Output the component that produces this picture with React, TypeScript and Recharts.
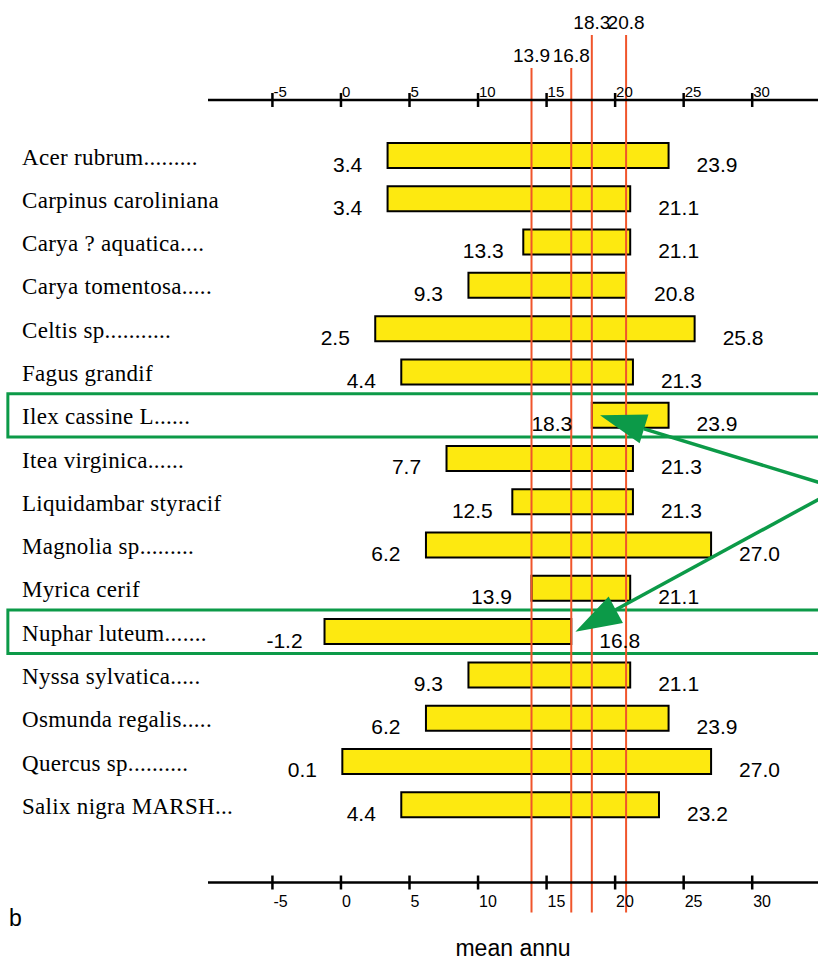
import {
  BarChart,
  Bar,
  XAxis,
  YAxis,
  ReferenceLine,
  ReferenceArea,
  LabelList,
} from "recharts";

const species = [
  "Acer rubrum.........",
  "Carpinus caroliniana",
  "Carya ? aquatica....",
  "Carya tomentosa.....",
  "Celtis sp...........",
  "Fagus grandif",
  "Ilex cassine L......",
  "Itea virginica......",
  "Liquidambar styracif",
  "Magnolia sp.........",
  "Myrica cerif",
  "Nuphar luteum.......",
  "Nyssa sylvatica.....",
  "Osmunda regalis.....",
  "Quercus sp..........",
  "Salix nigra MARSH...",
];
const lows = [3.4, 3.4, 13.3, 9.3, 2.5, 4.4, 18.3, 7.7, 12.5, 6.2, 13.9, -1.2, 9.3, 6.2, 0.1, 4.4];
const highs = [23.9, 21.1, 21.1, 20.8, 25.8, 21.3, 23.9, 21.3, 21.3, 27.0, 21.1, 16.8, 21.1, 23.9, 27.0, 23.2];

const ticks = [-5, 0, 5, 10, 15, 20, 25, 30];
const markers = [13.9, 16.8, 18.3, 20.8];
const markerTier = [0, 0, 1, 1]; // labels staggered on two levels

const highlighted = ["Ilex cassine L......", "Nuphar luteum......."];
// arrows pointing at the highlighted bars: start (x, row) -> tip (x, row)
const arrowFromX = [39.5, 40.3];
const arrowFromRow = ["Liquidambar styracif", "Itea virginica......"];
const arrowToX = [18.9, 17.1];
const arrowToRow = ["Ilex cassine L......", "Nuphar luteum......."];

const data = species.map((name, i) => ({ name, lo: lows[i], hi: highs[i] }));

const SANS = "'Liberation Sans', Arial, sans-serif";
const SERIF = "'Liberation Serif', 'Times New Roman', serif";
const GREEN = "#0c9a48";
const RED = "#f0552b";

const TopTick = ({ x, y, payload }: any) => (
  <g>
    <line x1={x} x2={x} y1={y - 7} y2={y + 7} stroke="#000" strokeWidth={2.5} />
    <text x={x + 1} y={y - 3} fontSize={15} fontFamily={SANS} fill="#000">
      {payload.value}
    </text>
  </g>
);

const BottomTick = ({ x, y, payload }: any) => (
  <g>
    <line x1={x} x2={x} y1={y - 7} y2={y + 7} stroke="#000" strokeWidth={2.5} />
    <text x={x + 1} y={y + 24} fontSize={16} fontFamily={SANS} fill="#000">
      {payload.value}
    </text>
  </g>
);

const SpeciesTick = ({ y, payload }: any) => (
  <text x={22} y={y + 9} fontSize={23} fontFamily={SERIF} letterSpacing={0.3} fill="#000">
    {payload.value}
  </text>
);

const MarkerLine = (props: any) => {
  const { x1, y1, y2, value, tier } = props;
  const top = Math.min(y1, y2) - (tier ? 65 : 32);
  const bottom = Math.max(y1, y2) + 30;
  return (
    <g>
      <line x1={x1} x2={x1} y1={top} y2={bottom} stroke={RED} strokeWidth={2} />
      <text x={x1} y={top - 6} textAnchor="middle" fontSize={19} fontFamily={SANS} fill="#000">
        {value.toFixed(1)}
      </text>
    </g>
  );
};

const Arrow = (props: any) => {
  const { x1, y1, x2, y2 } = props;
  const dx = x2 - x1;
  const dy = y2 - y1;
  const len = Math.sqrt(dx * dx + dy * dy);
  const ux = dx / len;
  const uy = dy / len;
  const head = 46;
  const half = 15;
  const bx = x2 - ux * head;
  const by = y2 - uy * head;
  return (
    <g>
      <line x1={x1} y1={y1} x2={bx} y2={by} stroke={GREEN} strokeWidth={3.5} />
      <polygon
        points={`${x2},${y2} ${bx - uy * half},${by + ux * half} ${bx + uy * half},${by - ux * half}`}
        fill={GREEN}
      />
    </g>
  );
};

export default function App() {
  return (
    <div style={{ position: "absolute", left: 0, top: 0, width: 818, height: 958, background: "#fff" }}>
      <BarChart
        width={818}
        height={958}
        data={data}
        layout="vertical"
        margin={{ top: 70, right: 0, bottom: 45.5, left: 0 }}
      >
        <XAxis
          xAxisId="top"
          orientation="top"
          type="number"
          domain={[-9.7, 34.8]}
          allowDataOverflow
          ticks={ticks}
          interval={0}
          height={30}
          tickLine={false}
          tickSize={0}
          tickMargin={0}
          axisLine={{ stroke: "#000", strokeWidth: 2.5 }}
          tick={<TopTick />}
        />
        <XAxis
          xAxisId="bottom"
          orientation="bottom"
          type="number"
          domain={[-9.7, 34.8]}
          allowDataOverflow
          ticks={ticks}
          interval={0}
          height={30}
          tickLine={false}
          tickSize={0}
          tickMargin={0}
          axisLine={{ stroke: "#000", strokeWidth: 2.5 }}
          tick={<BottomTick />}
          label={(p: any) => (
            <text
              x={p.viewBox.x + p.viewBox.width / 2}
              y={p.viewBox.y + 73}
              textAnchor="middle"
              fontSize={23}
              fontFamily={SANS}
              fill="#000"
            >
              mean annu
            </text>
          )}
        />
        <YAxis
          yAxisId="cat"
          type="category"
          dataKey="name"
          width={208}
          interval={0}
          axisLine={false}
          tickLine={false}
          padding={{ top: 34, bottom: 56 }}
          tick={<SpeciesTick />}
        />
        {highlighted.map((name) => (
          <ReferenceArea
            key={name}
            xAxisId="bottom"
            yAxisId="cat"
            x1={-24.3}
            x2={36}
            y1={name}
            y2={name}
            ifOverflow="visible"
            fill="none"
            fillOpacity={0}
            stroke={GREEN}
            strokeWidth={3}
          />
        ))}
        <Bar
          xAxisId="bottom"
          yAxisId="cat"
          dataKey={(d: any) => [d.lo, d.hi]}
          barSize={25}
          fill="#fde910"
          stroke="#000"
          strokeWidth={2}
          isAnimationActive={false}
        >
          <LabelList
            dataKey="lo"
            content={(p: any) => (
              <text
                x={Number(p.x) - 40}
                y={Number(p.y) + Number(p.height) / 2 + 16}
                textAnchor="middle"
                fontSize={21}
                fontFamily={SANS}
                fill="#000"
              >
                {Number(p.value).toFixed(1)}
              </text>
            )}
          />
          <LabelList
            dataKey="hi"
            content={(p: any) => (
              <text
                x={Number(p.x) + Number(p.width) + 28}
                y={Number(p.y) + Number(p.height) / 2 + 16}
                textAnchor="start"
                fontSize={21}
                fontFamily={SANS}
                fill="#000"
              >
                {Number(p.value).toFixed(1)}
              </text>
            )}
          />
        </Bar>
        {markers.map((v, i) => (
          <ReferenceLine
            key={v}
            xAxisId="bottom"
            yAxisId="cat"
            x={v}
            stroke={RED}
            strokeWidth={2}
            shape={(p: any) => <MarkerLine {...p} value={v} tier={markerTier[i]} />}
          />
        ))}
        {arrowFromX.map((fx, i) => (
          <ReferenceLine
            key={"arrow" + i}
            xAxisId="bottom"
            yAxisId="cat"
            segment={[
              { x: fx, y: arrowFromRow[i] },
              { x: arrowToX[i], y: arrowToRow[i] },
            ]}
            ifOverflow="visible"
            shape={(p: any) => <Arrow {...p} />}
          />
        ))}
      </BarChart>
      <div
        style={{
          position: "absolute",
          left: 9,
          top: 907,
          fontSize: 23,
          lineHeight: "23px",
          fontFamily: SANS,
        }}
      >
        b
      </div>
    </div>
  );
}
